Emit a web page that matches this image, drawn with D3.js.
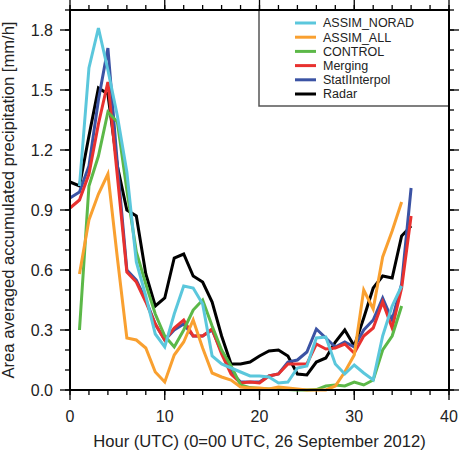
<!DOCTYPE html>
<html lang="en">
<head>
    <meta charset="UTF-8">
    <title>Area averaged accumulated precipitation</title>
    <script src="https://d3js.org/d3.v7.min.js"></script>
    <style>
        body { margin: 0; background: #fff; }
        svg { display: block; font-family: "Liberation Sans", Arial, Helvetica, sans-serif; }
        .tick-label { font-size: 16px; fill: #222; }
        .axis-title { font-size: 16.6px; fill: #222; }
        .legend-label { font-size: 12.5px; fill: #222; }
    </style>
</head>
<body>
    <svg id="chart" width="460" height="452"></svg>
    <script>
        // hours after 00 UTC, 26 September 2012
        const hours = [0, 1, 2, 3, 4, 5, 6, 7, 8, 9, 10, 11, 12, 13, 14, 15, 16, 17, 18,
                       19, 20, 21, 22, 23, 24, 25, 26, 27, 28, 29, 30, 31, 32, 33, 34, 35, 36];

        // mm/h, null where a run has no value
        const radar = [1.04, 1.02, 1.27, 1.51, 1.48, 1.12, 0.90, 0.87, 0.58, 0.42, 0.46, 0.66, 0.68,
                       0.57, 0.54, 0.44, 0.27, 0.13, 0.13, 0.14, 0.17, 0.195, 0.20, 0.17, 0.08,
                       0.075, 0.14, 0.16, 0.24, 0.30, 0.22, 0.36, 0.51, 0.57, 0.56, 0.77, 0.82];
        const statInterpol = [0.96, 0.99, 1.12, 1.45, 1.71, 1.13, 0.60, 0.55, 0.45, 0.33, 0.25, 0.30, 0.33,
                       0.27, 0.27, 0.30, 0.19, 0.09, 0.04, 0.04, 0.04, 0.07, 0.08, 0.14, 0.15,
                       0.19, 0.305, 0.26, 0.215, 0.24, 0.215, 0.30, 0.35, 0.46, 0.35, 0.53, 1.01];
        const merging = [0.91, 0.95, 1.08, 1.33, 1.54, 1.07, 0.59, 0.54, 0.44, 0.33, 0.25, 0.31, 0.35,
                       0.27, 0.27, 0.305, 0.18, 0.08, 0.035, 0.04, 0.035, 0.07, 0.08, 0.13, 0.13,
                       0.13, 0.23, 0.205, 0.21, 0.23, 0.185, 0.27, 0.31, 0.44, 0.31, 0.51, 0.87];
        const control = [null, 0.30, 1.02, 1.17, 1.39, 1.34, 1.00, 0.69, 0.53, 0.38, 0.27, 0.215, 0.30,
                       0.40, 0.45, 0.32, 0.20, 0.12, 0.025, 0.012, 0.008, 0.005, 0.005, 0.003, 0.0,
                       0.0, 0.002, 0.02, 0.025, 0.02, 0.04, 0.025, 0.05, 0.20, 0.27, 0.42, null];
        const assimAll = [null, 0.58, 0.85, 0.98, 1.08, 0.66, 0.26, 0.25, 0.21, 0.09, 0.04, 0.175, 0.24,
                       0.35, 0.21, 0.085, 0.065, 0.05, 0.015, 0.01, 0.01, 0.005, 0.015, 0.01, 0.005,
                       0.0, 0.0, 0.0, 0.02, 0.09, 0.175, 0.50, 0.405, 0.665, 0.795, 0.94, null];
        const assimNorad = [null, 1.02, 1.61, 1.81, 1.60, 1.37, 1.09, 0.64, 0.47, 0.28, 0.215, 0.38, 0.52,
                       0.51, 0.43, 0.17, 0.13, 0.11, 0.09, 0.07, 0.07, 0.065, 0.035, 0.04, 0.11,
                       0.12, 0.26, 0.265, 0.13, 0.08, 0.125, 0.085, 0.05, 0.27, 0.42, 0.52, null];

        const xTicks = [0, 10, 20, 30, 40];
        const yTicks = [0.0, 0.3, 0.6, 0.9, 1.2, 1.5, 1.8];

        // drawing order (first drawn at the bottom)
        const series = [
            { name: "Radar", values: radar, color: "#000000" },
            { name: "StatIInterpol", values: statInterpol, color: "#3b53a4" },
            { name: "Merging", values: merging, color: "#e8312f" },
            { name: "CONTROL", values: control, color: "#5cb848" },
            { name: "ASSIM_ALL", values: assimAll, color: "#f9a030" },
            { name: "ASSIM_NORAD", values: assimNorad, color: "#5bc7dc" }
        ];
        // legend lists top to bottom in reverse order
        const legendOrder = series.slice().reverse();

        const svg = d3.select("#chart");
        const plotLeft = 70, plotRight = 449, plotTop = 10, plotBottom = 390;

        const x = d3.scaleLinear().domain([0, 40]).range([plotLeft, plotRight]);
        const y = d3.scaleLinear().domain([0, 1.9]).range([plotBottom, plotTop]);

        const minorX = d3.range(0, 40.001, 2);
        const minorY = d3.range(0, 1.9001, 0.1);

        // outward ticks on all four sides
        function drawTicks(scale, values, len, side) {
            const g = svg.append("g").attr("stroke", "#000").attr("stroke-width", 1.3);
            values.forEach(v => {
                const p = scale(v);
                if (side === "bottom") g.append("line").attr("x1", p).attr("x2", p).attr("y1", plotBottom).attr("y2", plotBottom + len);
                if (side === "top") g.append("line").attr("x1", p).attr("x2", p).attr("y1", plotTop).attr("y2", plotTop - len);
                if (side === "left") g.append("line").attr("y1", p).attr("y2", p).attr("x1", plotLeft).attr("x2", plotLeft - len);
                if (side === "right") g.append("line").attr("y1", p).attr("y2", p).attr("x1", plotRight).attr("x2", plotRight + len);
            });
        }
        ["bottom", "top"].forEach(s => {
            drawTicks(x, minorX, 5, s);
            drawTicks(x, xTicks, 10, s);
        });
        ["left", "right"].forEach(s => {
            drawTicks(y, minorY, 5, s);
            drawTicks(y, yTicks, 10, s);
        });

        // tick labels
        svg.append("g").selectAll("text")
            .data(xTicks)
            .join("text")
            .attr("class", "tick-label")
            .attr("x", d => x(d))
            .attr("y", 422)
            .attr("text-anchor", "middle")
            .text(d => d);
        svg.append("g").selectAll("text")
            .data(yTicks)
            .join("text")
            .attr("class", "tick-label")
            .attr("x", 53)
            .attr("y", d => y(d))
            .attr("dy", "0.36em")
            .attr("text-anchor", "end")
            .text(d => d3.format(".1f")(d));

        // axis titles
        svg.append("text")
            .attr("class", "axis-title")
            .attr("x", (plotLeft + plotRight) / 2)
            .attr("y", 447)
            .attr("text-anchor", "middle")
            .text("Hour (UTC) (0=00 UTC, 26 September 2012)");
        svg.append("text")
            .attr("class", "axis-title")
            .attr("transform", `translate(14,${(plotTop + plotBottom) / 2}) rotate(-90)`)
            .attr("text-anchor", "middle")
            .text("Area averaged accumulated precipitation [mm/h]");

        // lines
        const line = d3.line()
            .defined(d => d.v !== null)
            .x(d => x(d.h))
            .y(d => y(d.v));
        svg.append("g").selectAll("path")
            .data(series)
            .join("path")
            .attr("fill", "none")
            .attr("stroke", d => d.color)
            .attr("stroke-width", 3)
            .attr("stroke-linejoin", "miter")
            .attr("d", d => line(hours.map((h, i) => ({ h: h, v: d.values[i] }))));

        // legend
        const legend = svg.append("g");
        legend.append("rect")
            .attr("x", 259).attr("y", plotTop)
            .attr("width", plotRight - 259).attr("height", 106 - plotTop)
            .attr("fill", "#fff")
            .attr("stroke", "#555")
            .attr("stroke-width", 1.5);
        legendOrder.forEach((s, i) => {
            const ly = 23 + i * 14.2;
            legend.append("line")
                .attr("x1", 295).attr("x2", 316)
                .attr("y1", ly).attr("y2", ly)
                .attr("stroke", s.color)
                .attr("stroke-width", 3);
            legend.append("text")
                .attr("class", "legend-label")
                .attr("x", 323)
                .attr("y", ly)
                .attr("dy", "0.35em")
                .text(s.name);
        });

        // frame
        svg.append("rect")
            .attr("x", plotLeft).attr("y", plotTop)
            .attr("width", plotRight - plotLeft).attr("height", plotBottom - plotTop)
            .attr("fill", "none")
            .attr("stroke", "#000")
            .attr("stroke-width", 2);
    </script>
</body>
</html>
